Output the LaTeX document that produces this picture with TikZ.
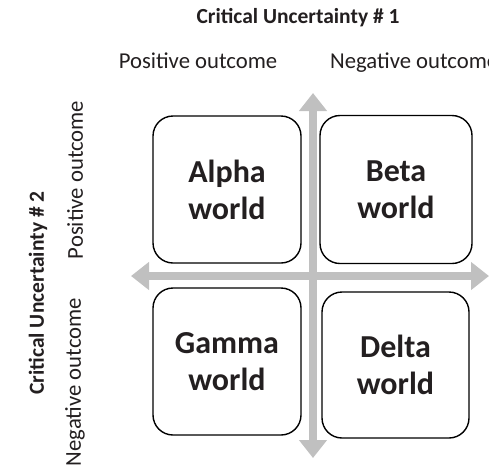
\documentclass[tikz,border=0pt]{standalone}
\usepackage{fontspec}
\setmainfont{Carlito}
\usetikzlibrary{arrows.meta}
\definecolor{axisgray}{RGB}{192,192,192}
\definecolor{inkdark}{RGB}{35,31,32}
\begin{document}
\begin{tikzpicture}[x=1pt,y=-1pt,
  world/.style={draw=black,line width=1.4pt,rounded corners=20pt,fill=white,
    text=inkdark,font=\fontsize{32}{37}\selectfont\bfseries,align=center,
    inner sep=0pt},
  axis/.style={draw=axisgray,line width=7.5pt,
    {Triangle[width=27pt,length=18pt]}-{Triangle[width=27pt,length=18pt]}},
  heading/.style={text=inkdark,font=\fontsize{21.5}{24}\selectfont\bfseries,inner sep=0pt},
  outcome/.style={text=inkdark,font=\fontsize{22.7}{26}\selectfont,inner sep=0pt}]
\useasboundingbox (0,0) rectangle (489,469);

% axes
\coordinate (vtop) at (313,93);
\coordinate (vbot) at (313,458);
\coordinate (hleft) at (131,276);
\coordinate (hright) at (489,276);
\draw[axis] (hleft) -- (hright);
\draw[axis] (vbot) -- (vtop);

% scenario worlds
\node[world,minimum width=148pt,minimum height=147pt] (alpha) at (227,189.5) {Alpha\\world};
\node[world,minimum width=152pt,minimum height=148pt] (beta) at (396,189.5) {Beta\\world};
\node[world,minimum width=148pt,minimum height=147pt] (gamma) at (227,361.5) {Gamma\\world};
\node[world,minimum width=147pt,minimum height=146pt] (delta) at (395.5,365) {Delta\\world};

% uncertainty 1 (columns)
\node[heading] (cu1) at (298,18) {Critical Uncertainty \# 1};
\node[outcome,anchor=base] (pos1) at (198,68) {Positive outcome};
\node[outcome,anchor=base west] (neg1) at (330,68) {Negative outcome};

% uncertainty 2 (rows)
\node[heading,rotate=90] (cu2) at (38,293) {Critical Uncertainty \# 2};
\node[outcome,rotate=90] (pos2) at (75,180) {Positive outcome};
\node[outcome,rotate=90] (neg2) at (75,382) {Negative outcome};
\end{tikzpicture}
\end{document}
